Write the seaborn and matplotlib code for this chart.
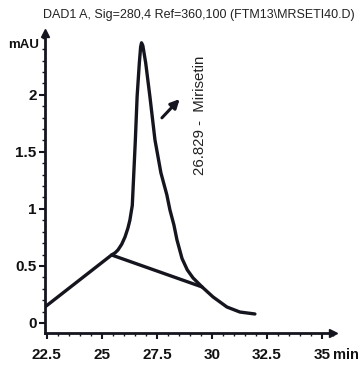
import matplotlib
matplotlib.use("Agg")
import matplotlib.pyplot as plt
import seaborn as sns
import pandas as pd
from matplotlib.ticker import MultipleLocator, FixedLocator

# ---- data ----
time_min = [22.41, 25.44, 25.60, 25.73, 25.90, 26.05, 26.18, 26.27, 26.38, 26.45,
            26.52, 26.60, 26.70, 26.76, 26.80, 26.86, 26.99, 27.18, 27.41, 27.68,
            27.95, 28.09, 28.27, 28.41, 28.64, 28.88, 29.14, 29.55, 30.05, 30.68,
            31.27, 31.95]
signal_mau = [0.14, 0.596, 0.615, 0.64, 0.69, 0.754, 0.83, 0.90, 1.03, 1.316,
              1.605, 1.985, 2.278, 2.42, 2.455, 2.43, 2.278, 1.985, 1.605, 1.316,
              1.123, 0.991, 0.860, 0.728, 0.565, 0.465, 0.395, 0.316, 0.228, 0.140,
              0.096, 0.079]
baseline_time = [25.44, 29.55]
baseline_mau = [0.596, 0.316]
x_ticks = [22.5, 25, 27.5, 30, 32.5, 35]
x_tick_labels = ["22.5", "25", "27.5", "30", "32.5", "35"]
y_ticks = [0, 0.5, 1, 1.5, 2]
y_tick_labels = ["0", "0.5", "1", "1.5", "2"]
title = "DAD1 A, Sig=280,4 Ref=360,100 (FTM13\\MRSETI40.D)"
peak_label = "26.829 -  Mirisetin"

sns.set_style("white")
plt.rcParams['font.family'] = ['Liberation Sans', 'DejaVu Sans']

fig = plt.figure(figsize=(3.62, 3.68), dpi=100)
ax = fig.add_axes([0.124, 0.095, 0.796, 0.815])

line_color = "#15151f"
df = pd.DataFrame({"time": time_min, "mAU": signal_mau})
sns.lineplot(data=df, x="time", y="mAU", ax=ax, color=line_color, lw=2.4, sort=False,
             solid_joinstyle="round", solid_capstyle="round")
dfb = pd.DataFrame({"time": baseline_time, "mAU": baseline_mau})
sns.lineplot(data=dfb, x="time", y="mAU", ax=ax, color=line_color, lw=2.4, sort=False,
             solid_capstyle="round")

ax.set_xlim(22.41, 35.5)
ax.set_ylim(-0.088, 2.54)
ax.set_xlabel("")
ax.set_ylabel("")

for s in ["top", "right"]:
    ax.spines[s].set_visible(False)
for s in ["left", "bottom"]:
    ax.spines[s].set_linewidth(2.0)
    ax.spines[s].set_color(line_color)

# axis arrows
ax.plot(1, 0, marker=">", ms=6, color=line_color, transform=ax.transAxes, clip_on=False)
ax.plot(0, 1, marker="^", ms=6, color=line_color, transform=ax.transAxes, clip_on=False)

ax.xaxis.set_major_locator(FixedLocator(x_ticks))
ax.set_xticklabels(x_tick_labels, fontweight="bold", fontsize=11)
ax.xaxis.set_minor_locator(MultipleLocator(0.5))
ax.yaxis.set_major_locator(FixedLocator(y_ticks))
ax.set_yticklabels(y_tick_labels, fontweight="bold", fontsize=11)
ax.yaxis.set_minor_locator(MultipleLocator(0.1))
ax.tick_params(axis="x", which="major", direction="out", length=4, width=1.5,
               color=line_color, labelcolor="#111111", bottom=True, pad=7)
ax.tick_params(axis="y", which="major", direction="out", length=4, width=1.5,
               color=line_color, labelcolor="#111111", left=True, pad=2)
ax.tick_params(axis="both", which="minor", direction="out", length=2, width=1.0,
               color=line_color, bottom=True, left=True)

fig.text(0.55, 0.959, title, ha="center", va="center", fontsize=9, color="#222222")
fig.text(0.066, 0.878, "mAU", ha="center", va="center", fontsize=9.5,
         fontweight="bold", color="#111111")
fig.text(0.955, 0.035, "min", ha="center", va="center", fontsize=10.5,
         fontweight="bold", color="#111111")

ax.annotate("", xy=(28.62, 1.98), xytext=(27.64, 1.78),
            arrowprops=dict(arrowstyle="-|>", color=line_color, lw=2.2, mutation_scale=13))
ax.text(29.45, 1.82, peak_label, rotation=90, ha="center", va="center",
        fontsize=10.8, color="#222222")

fig.savefig("out.png", dpi=100)
